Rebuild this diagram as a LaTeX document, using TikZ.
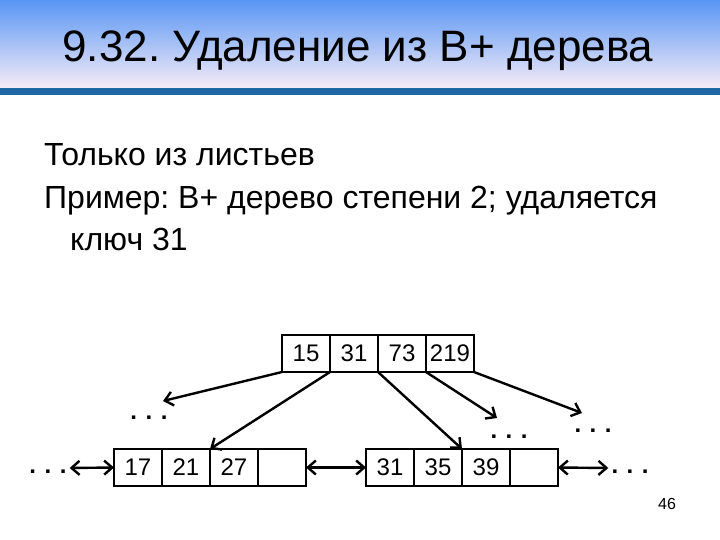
\documentclass[tikz,border=0pt]{standalone}
\usepackage{fontspec}
\setmainfont{Liberation Sans}
\usetikzlibrary{positioning,arrows.meta}
\frenchspacing
\definecolor{bandtop}{RGB}{88,150,245}
\definecolor{bandbot}{RGB}{246,236,246}
\definecolor{bandline}{RGB}{30,105,165}
\newcommand{\threedots}{.\hspace{8.5pt}.\hspace{8.5pt}.}
\tikzset{
  cell/.style={draw, line width=1.8pt, minimum width=48pt, minimum height=37pt,
    inner sep=0pt, outer sep=0pt, font=\fontsize{24}{24}\selectfont},
  dots/.style={anchor=base, inner xsep=3pt, inner ysep=0pt,
    font=\fontsize{24}{24}\bfseries\selectfont},
  link/.style={line width=2.4pt, ->},
  twoway/.style={line width=2.4pt, <->}
}
\begin{document}
\begin{tikzpicture}[x=1pt,y=-1pt,>={Straight Barb[length=8pt,width=14pt]}]
\useasboundingbox[fill=white] (0,0) rectangle (720,540);
%title band
\shade[top color=bandtop, bottom color=bandbot] (0,0) rectangle (720,88);
\fill[bandline] (0,88) rectangle (720,95);
\node[anchor=base, font=\fontsize{44}{48}\selectfont] (title) at (358,62) {9.32. Удаление из B+ дерева};
%text
\node[anchor=base west, inner sep=0pt, font=\fontsize{32}{36}\selectfont] (line1) at (44,166) {Только из листьев};
\node[anchor=base west, inner sep=0pt, font=\fontsize{32}{36}\selectfont] (line2) at (44,208) {Пример: B+ дерево степени 2; удаляется};
\node[anchor=base west, inner sep=0pt, font=\fontsize{32}{36}\selectfont] (line3) at (70,250) {ключ 31};
%root
\node[cell] (r1) at (306,353.5) {15};
\node[cell, right=0pt of r1] (r2) {31};
\node[cell, right=0pt of r2] (r3) {73};
\node[cell, right=0pt of r3] (r4) {219};
%leaf 1
\node[cell] (a1) at (138,467.5) {17};
\node[cell, right=0pt of a1] (a2) {21};
\node[cell, right=0pt of a2] (a3) {27};
\node[cell, right=0pt of a3] (a4) {};
%leaf 2
\node[cell] (b1) at (390,467.5) {31};
\node[cell, right=0pt of b1] (b2) {35};
\node[cell, right=0pt of b2] (b3) {39};
\node[cell, right=0pt of b3] (b4) {};
%dots
\node[dots] (d1) at (48,473.5) {\threedots};
\node[dots] (d2) at (149,419.5) {\threedots};
\node[dots] (d3) at (509,438) {\threedots};
\node[dots] (d4) at (593,432) {\threedots};
\node[dots] (d5) at (630,473.5) {\threedots};
\coordinate (t1) at (163,401);
\coordinate (t3) at (497,418);
\coordinate (t4) at (582,413);
%pointers
\draw[link] (r1.south west) -- (t1);
\draw[link] (r1.south east) -- (a2.north east);
\draw[link] (r2.south east) -- (b2.north east);
\draw[link] (r3.south east) -- (t3);
\draw[link] (r4.south east) -- (t4);
\draw[twoway] ([yshift=5.5pt]d1.base east) -- (a1.west);
\draw[twoway] (a4.east) -- (b1.west);
\draw[twoway] (b4.east) -- ([yshift=5.5pt]d5.base west);
\node[font=\fontsize{16}{16}\selectfont] (page) at (667,504) {46};
\end{tikzpicture}
\end{document}
